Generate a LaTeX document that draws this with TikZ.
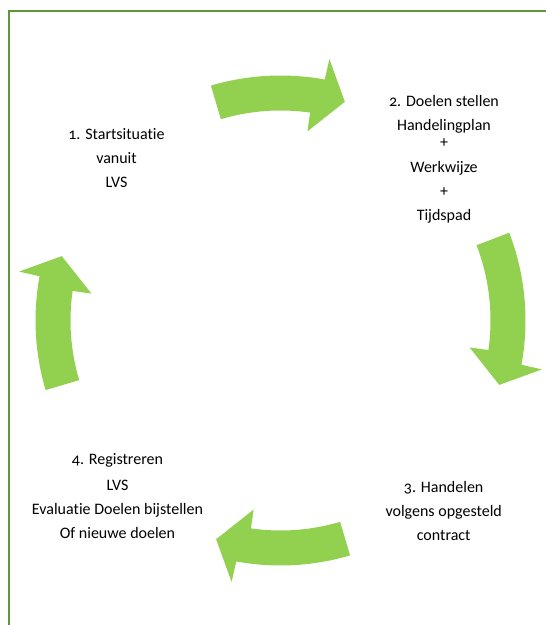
\documentclass[tikz,border=0pt]{standalone}
\usepackage{fontspec}
\setmainfont{Carlito}[Numbers=OldStyle, Ligatures={NoCommon}, Contextuals={NoAlternate}]
\definecolor{arrowgreen}{RGB}{146,208,80}
\definecolor{framegreen}{RGB}{98,150,58}
\tikzset{
  cyclearrow/.style={fill=arrowgreen, draw=none},
  frameline/.style={draw=framegreen, line width=2pt},
  steplabel/.style={align=center, inner sep=0pt, anchor=north,
    font=\fontsize{16}{24}\selectfont, text=black}
}
% #1 rotation, #2 tail angle (relative to the top arrow)
\newcommand\cyclearrowpath[2]{%
  \begin{scope}[shift={(C)}, rotate=#1]
    \fill[cyclearrow] (#2:245) arc[start angle=#2, end angle=79.6, radius=245]
      -- (79.4:266) -- (73.6:228) -- (81.9:191) -- (81.9:210)
      arc[start angle=81.9, end angle=#2, radius=210] -- cycle;
  \end{scope}}
\begin{document}
\begin{tikzpicture}[x=1pt,y=1pt]
  \useasboundingbox (0,0) rectangle (546,625);
  \clip (0,0) rectangle (546,625);
  \coordinate (C) at (280.5,304.5);
  % frame
  \draw[frameline] (8.7,-10) -- (8.7,614.3) -- (600,614.3);
  % arrows
  \cyclearrowpath{0}{106.5}
  \cyclearrowpath{270}{111}
  \cyclearrowpath{180}{106.5}
  \cyclearrowpath{90}{106.5}
  % labels
  \node[steplabel] (s1) at (116.5,497) {1. Startsituatie\\vanuit\\LVS};
  \node[steplabel] (s2) at (444,530) {2. Doelen stellen\\Handelingplan\\[-7pt]+\\[1.5pt]Werkwijze\\+\\Tijdspad};
  \node[steplabel] (s3) at (443.7,144.3) {3. Handelen\\volgens opgesteld\\contract};
  \node[steplabel] (s4) at (117.5,171.7) {4. Registreren\\[1.5pt]LVS\\Evaluatie Doelen bijstellen\\Of nieuwe doelen};
\end{tikzpicture}
\end{document}
